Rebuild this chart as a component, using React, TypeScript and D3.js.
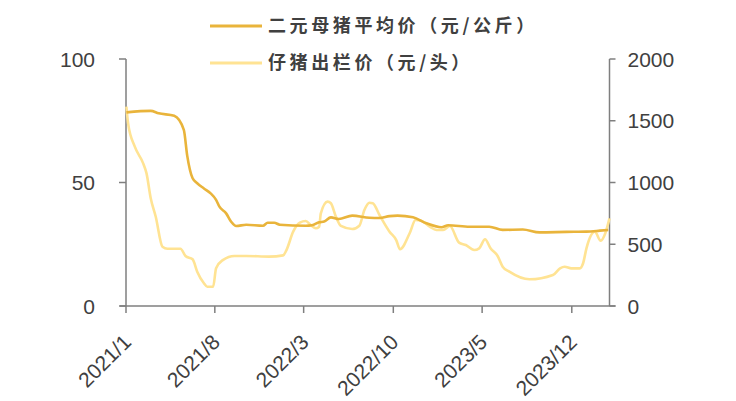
import React from "react";
import * as d3 from "d3";

const sowDates = ["2021-01-02","2021-03-01","2021-03-20","2021-04-26","2021-05-19","2021-05-27","2021-06-09","2021-06-20","2021-07-06","2021-07-22","2021-08-04","2021-08-12","2021-08-28","2021-09-09","2021-09-21","2021-10-15","2021-11-24","2021-12-05","2021-12-21","2022-01-03","2022-03-06","2022-03-21","2022-04-07","2022-04-19","2022-05-05","2022-05-24","2022-06-25","2022-08-05","2022-08-29","2022-09-22","2022-10-11","2022-11-17","2022-12-19","2023-01-24","2023-02-09","2023-04-01","2023-05-18","2023-06-19","2023-08-06","2023-09-15","2023-11-18","2024-01-05","2024-02-06","2024-02-26"];
const sowValues = [78.4,79,78,77,71.3,61,51.7,49.7,47.6,45.6,43,40.2,37.5,34.1,32.4,32.9,32.5,33.7,33.7,32.9,32.5,32.7,33.9,34.2,35.9,35.2,36.6,35.7,35.6,36.4,36.6,35.9,33.5,31.9,32.7,32.1,32.1,30.8,31.0,29.8,30,30.1,30.5,30.8];

const pigletDates = ["2021-01-02","2021-01-06","2021-01-22","2021-02-11","2021-02-19","2021-03-01","2021-03-13","2021-03-29","2021-04-10","2021-05-11","2021-05-23","2021-06-09","2021-06-20","2021-07-06","2021-07-14","2021-07-28","2021-08-04","2021-08-20","2021-09-17","2021-10-15","2021-12-09","2022-01-11","2022-01-19","2022-02-04","2022-02-20","2022-03-06","2022-03-18","2022-03-30","2022-04-07","2022-04-11","2022-04-27","2022-05-05","2022-05-17","2022-05-29","2022-06-25","2022-07-12","2022-07-24","2022-08-05","2022-08-13","2022-08-29","2022-09-22","2022-10-08","2022-10-17","2022-11-09","2022-11-23","2022-12-07","2022-12-27","2023-01-12","2023-01-28","2023-02-13","2023-03-07","2023-03-23","2023-04-12","2023-04-24","2023-05-08","2023-05-21","2023-06-07","2023-06-19","2023-07-05","2023-08-22","2023-10-17","2023-11-03","2023-11-14","2023-11-30","2023-12-20","2023-12-28","2024-01-05","2024-01-25","2024-02-08","2024-02-19","2024-02-29"];
const pigletValues = [1614,1479,1290,1155,1074,872,723,480,464,464,405,378,278,184,156,156,305,372,405,405,400,410,453,602,675,688,656,629,642,750,845,832,723,648,623,650,777,836,832,737,602,534,459,589,696,691,642,615,615,648,513,494,453,467,540,467,405,318,278,216,251,305,318,305,305,346,467,602,529,589,710];

const xTickLabels = ["2021/1","2021/8","2022/3","2022/10","2023/5","2023/12"];
const leftTicks = [0, 50, 100];
const rightTicks = [0, 500, 1000, 1500, 2000];
const legendLabels = ["二元母猪平均价（元/公斤）", "仔猪出栏价（元/头）"];

const W = 736, H = 401;
const M = { left: 126, right: 609.5, top: 59, bottom: 306 };
const SOW = "#E9B43B";
const PIG = "#FFE393";
const AXIS = "#7f7f7f";
const TXT = "#404040";

const parse = d3.timeParse("%Y-%m-%d");
const tickParse = d3.timeParse("%Y/%m");

export default function App() {
  const x = d3.scaleTime().domain([parse("2021-01-01")!, parse("2024-02-29")!]).range([M.left, M.right]);
  const yL = d3.scaleLinear().domain([0, 100]).range([M.bottom, M.top]);
  const yR = d3.scaleLinear().domain([0, 2000]).range([M.bottom, M.top]);

  const sow = sowDates.map((d, i) => ({ d: parse(d)!, v: sowValues[i] }));
  const pig = pigletDates.map((d, i) => ({ d: parse(d)!, v: pigletValues[i] }));

  const sowLine = d3.line<{ d: Date; v: number }>().x(p => x(p.d)).y(p => yL(p.v)).curve(d3.curveMonotoneX);
  const pigLine = d3.line<{ d: Date; v: number }>().x(p => x(p.d)).y(p => yR(p.v)).curve(d3.curveMonotoneX);

  const font = "Arial, 'Liberation Sans', sans-serif";
  const cjk = "'Noto Sans CJK SC', sans-serif";

  return (
    <svg width={W} height={H} style={{ position: "absolute", left: 0, top: 0 }}>
      <rect width={W} height={H} fill="#fff" />
      {/* axes */}
      <line x1={M.left} x2={M.left} y1={M.top} y2={M.bottom} stroke={AXIS} strokeWidth={1.5} />
      <line x1={M.right} x2={M.right} y1={M.top} y2={M.bottom} stroke={AXIS} strokeWidth={1.5} />
      <line x1={M.left - 6} x2={M.right + 6} y1={M.bottom} y2={M.bottom} stroke={AXIS} strokeWidth={1.5} />
      {leftTicks.map(t => (
        <g key={"l" + t}>
          <line x1={M.left - 7} x2={M.left} y1={yL(t)} y2={yL(t)} stroke={AXIS} strokeWidth={1.5} />
          <text x={M.left - 31} y={yL(t)} dy="0.36em" textAnchor="end" fontSize={21} fontFamily={font} fill={TXT}>{t}</text>
        </g>
      ))}
      {rightTicks.map(t => (
        <g key={"r" + t}>
          <line x1={M.right} x2={M.right + 6} y1={yR(t)} y2={yR(t)} stroke={AXIS} strokeWidth={1.5} />
          <text x={M.right + 18} y={yR(t)} dy="0.36em" textAnchor="start" fontSize={21} fontFamily={font} fill={TXT}>{t}</text>
        </g>
      ))}
      {xTickLabels.map(t => {
        const px = x(tickParse(t)!);
        return (
          <g key={t}>
            <line x1={px} x2={px} y1={M.bottom} y2={M.bottom + 7} stroke={AXIS} strokeWidth={1.5} />
            <text transform={`translate(${px - 4},${M.bottom + 27}) rotate(-45)`} textAnchor="end" dy="0.7em" fontSize={21} fontFamily={font} fill={TXT}>{t}</text>
          </g>
        );
      })}
      {/* lines */}
      <path d={pigLine(pig)!} fill="none" stroke={PIG} strokeWidth={2.6} strokeLinejoin="round" />
      <path d={sowLine(sow)!} fill="none" stroke={SOW} strokeWidth={2.6} strokeLinejoin="round" />
      {/* legend */}
      {legendLabels.map((l, i) => (
        <g key={l}>
          <line x1={210} x2={262} y1={26 + i * 37} y2={26 + i * 37} stroke={i === 0 ? SOW : PIG} strokeWidth={3} />
          <text x={268} y={26 + i * 37} dy="0.35em" fontSize={18} fontWeight="bold" letterSpacing={3.6} fontFamily={cjk} fill={TXT}>{l}</text>
        </g>
      ))}
    </svg>
  );
}
